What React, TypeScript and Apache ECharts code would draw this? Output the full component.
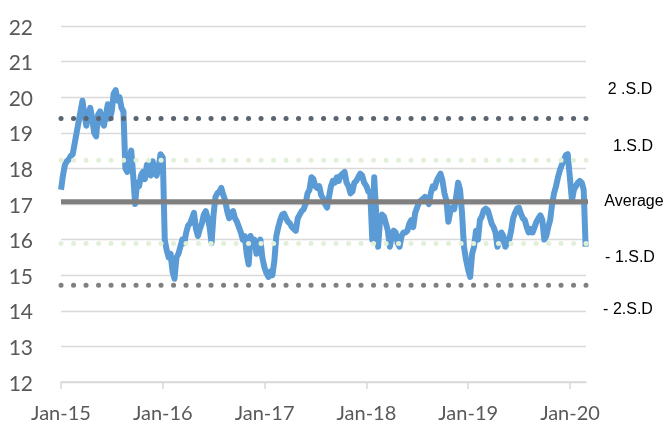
import React, { useEffect, useRef } from "react";
import * as echarts from "echarts";

const yearLabels = ["Jan-15", "Jan-16", "Jan-17", "Jan-18", "Jan-19", "Jan-20"];

// weekly readings, one array per calendar year
const v2015 = [17.4, 17.8, 18.1, 18.2, 18.25, 18.35, 18.4, 18.7, 19.0, 19.3, 19.6, 19.9, 19.5, 19.2, 19.5, 19.7, 19.4, 19.0, 18.9, 19.5, 19.6, 19.3, 19.2, 19.5, 19.8, 19.4, 19.6, 20.1, 20.2, 19.9, 20.0, 19.7, 19.6, 18.0, 17.9, 18.3, 18.5, 17.8, 17.0, 17.6, 17.5, 17.8, 17.9, 17.7, 18.1, 18.0, 17.8, 18.2, 17.9, 17.8, 18.0, 18.4];
const v2016 = [18.3, 16.0, 15.7, 15.5, 15.6, 15.1, 14.9, 15.5, 15.6, 15.8, 16.0, 15.9, 16.2, 16.4, 16.45, 16.6, 16.75, 16.3, 16.1, 16.3, 16.45, 16.7, 16.8, 16.6, 16.35, 15.9, 16.7, 17.2, 17.3, 17.35, 17.45, 17.25, 17.1, 16.8, 16.6, 16.75, 16.8, 16.6, 16.5, 16.35, 16.2, 16.0, 16.1, 15.6, 15.3, 16.1, 15.9, 16.0, 15.6, 15.8, 16.0, 15.5];
const v2017 = [15.2, 15.05, 14.95, 15.1, 15.0, 15.4, 16.1, 16.35, 16.55, 16.7, 16.73, 16.6, 16.5, 16.45, 16.35, 16.3, 16.25, 16.6, 16.7, 16.8, 16.85, 17.0, 17.3, 17.4, 17.75, 17.7, 17.5, 17.45, 17.5, 17.25, 17.15, 17.0, 16.9, 17.2, 17.5, 17.65, 17.6, 17.75, 17.65, 17.8, 17.85, 17.9, 17.6, 17.5, 17.3, 17.35, 17.6, 17.65, 17.75, 17.85, 17.8, 17.6];
const v2018 = [17.5, 17.35, 17.3, 16.0, 17.75, 16.75, 15.8, 16.55, 16.7, 16.65, 16.45, 16.25, 15.8, 16.1, 16.25, 16.2, 15.9, 15.8, 16.1, 16.2, 16.2, 16.25, 16.45, 16.55, 16.35, 16.75, 16.9, 17.05, 17.1, 17.15, 17.2, 17.1, 17.0, 17.3, 17.5, 17.45, 17.65, 17.75, 17.85, 17.65, 17.3, 17.1, 16.5, 16.8, 16.9, 16.85, 17.2, 17.6, 17.4, 16.75, 15.8, 15.45];
const v2019 = [15.15, 14.95, 15.6, 15.8, 16.25, 16.0, 16.55, 16.65, 16.83, 16.87, 16.83, 16.65, 16.45, 16.35, 16.2, 15.8, 16.0, 16.2, 16.1, 15.8, 15.9, 16.0, 16.25, 16.6, 16.75, 16.87, 16.9, 16.73, 16.6, 16.55, 16.35, 16.2, 16.3, 16.2, 16.35, 16.5, 16.6, 16.68, 16.55, 16.0, 16.1, 16.35, 16.55, 17.0, 17.3, 17.5, 17.75, 17.95, 18.1, 18.23, 18.37, 18.4];
const v2020 = [17.7, 17.1, 17.4, 17.5, 17.6, 17.65, 17.6, 17.4, 15.8];

const yearSeries = [v2015, v2016, v2017, v2018, v2019, v2020];

const AVERAGE = 17.06;
const SD = 1.17;
const bandLabels = ["2 .S.D", "1.S.D", "Average", "- 1.S.D", "- 2.S.D"];

const X_MAX = 5.157;

export default function App() {
  const ref = useRef<HTMLDivElement>(null);

  useEffect(() => {
    const chart = echarts.init(ref.current!, null, { renderer: "svg" });

    const data: [number, number][] = [];
    yearSeries.forEach((vals, y) => {
      vals.forEach((v, i) => {
        data.push([y + (i * 7) / 365.25, v]);
      });
    });

    const hline = (val: number, color: string, width: number, dotted: boolean, xEnd: number) => ({
      type: "line",
      data: [
        [0, val],
        [xEnd, val],
      ],
      symbol: "none",
      silent: true,
      lineStyle: {
        color,
        width,
        type: dotted ? [0.1, 12.4] : "solid",
        cap: dotted ? "round" : "butt",
      },
    });

    const labelYs = [88, 145, 200, 256, 308];
    const labelXs = [630, 633, 634, 630, 628];

    chart.setOption({
      animation: false,
      grid: { left: 61, right: 81, top: 26, bottom: 41 },
      xAxis: {
        type: "value",
        min: 0,
        max: X_MAX,
        interval: 1,
        axisLine: { show: true, lineStyle: { color: "#d9d9d9", width: 1.5 } },
        axisTick: {
          show: true,
          length: 7,
          lineStyle: { color: "#d9d9d9", width: 1.5 },
          customValues: [0, 1, 2, 3, 4, 5],
        },
        splitLine: { show: false },
        axisLabel: {
          customValues: [0, 1, 2, 3, 4, 5],
          formatter: (v: number) => yearLabels[Math.round(v)] ?? "",
          fontFamily: "Lato",
          fontSize: 20,
          lineHeight: 20,
          color: "#595959",
          margin: 20,
        },
      },
      yAxis: {
        type: "value",
        min: 12,
        max: 22,
        interval: 1,
        axisLine: { show: false },
        axisTick: { show: false },
        splitLine: { lineStyle: { color: "#d9d9d9", width: 1.3 } },
        axisLabel: {
          fontFamily: "Lato",
          fontSize: 21,
          color: "#595959",
          margin: 28,
        },
      },
      series: [
        {
          type: "line",
          data,
          symbol: "none",
          lineStyle: { color: "#5b9bd5", width: 6, join: "round" },
        },
        hline(AVERAGE, "#7f7f7f", 5, false, X_MAX + 0.02),
        hline(AVERAGE + SD, "#e2f0d9", 5, true, X_MAX),
        hline(AVERAGE - SD, "#e2f0d9", 5, true, X_MAX),
        hline(AVERAGE + 2 * SD, "#5b6571", 5, true, X_MAX),
        hline(AVERAGE - 2 * SD, "#808080", 5, true, X_MAX),
      ],
      graphic: bandLabels.map((t, i) => ({
        type: "text",
        x: labelXs[i],
        y: labelYs[i],
        style: {
          text: t,
          fill: "#000000",
          font: "16px 'Liberation Sans', Arial, sans-serif",
          align: "center",
          verticalAlign: "middle",
        },
      })),
    });

    return () => chart.dispose();
  }, []);

  return (
    <div
      ref={ref}
      style={{ position: "fixed", left: 0, top: 0, width: 667, height: 423 }}
    />
  );
}
